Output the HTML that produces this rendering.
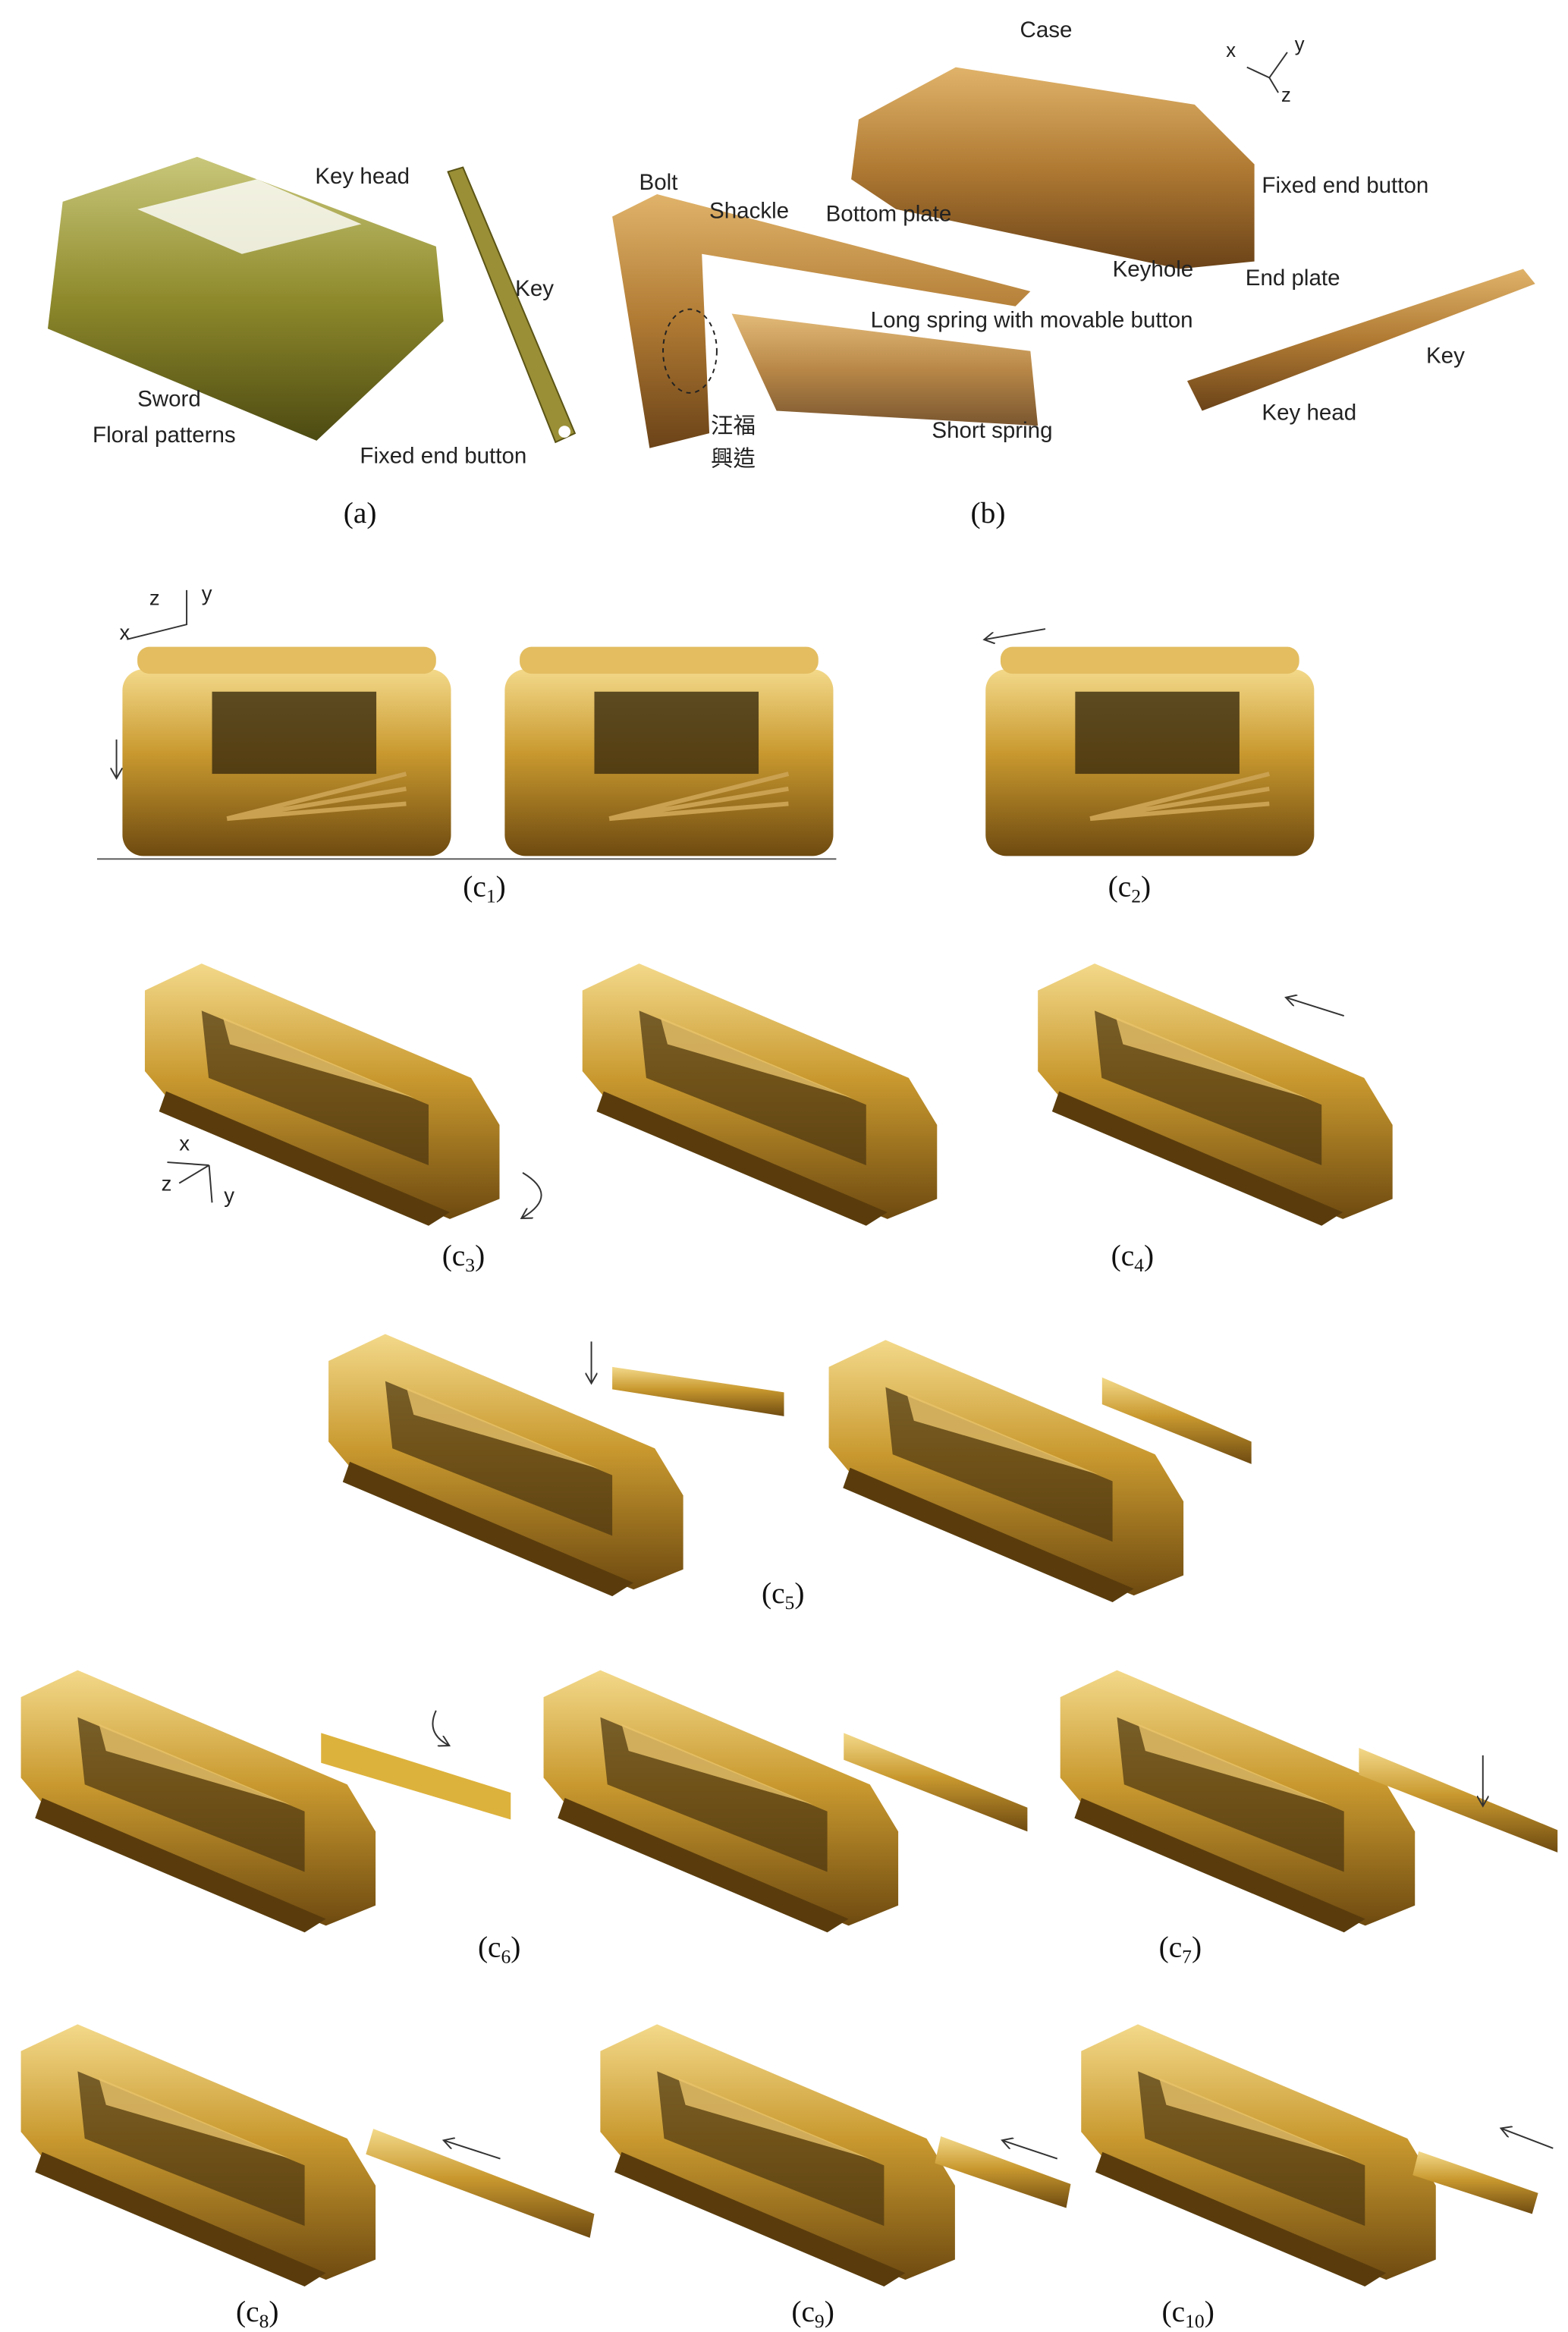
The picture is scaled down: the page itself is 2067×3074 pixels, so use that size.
<!DOCTYPE html>
<html><head><meta charset="utf-8"><style>
html,body{margin:0;padding:0;background:#fff;}
svg{display:block}
text{font-family:"Liberation Sans","Noto Sans CJK TC",sans-serif;fill:#222;}
.cap{font-family:"Liberation Serif",serif;font-size:20px;fill:#111}
.lb{font-size:15px}
</style></head><body>
<svg width="2067" height="3074" viewBox="0 0 1050 1561" preserveAspectRatio="none" xmlns="http://www.w3.org/2000/svg">
<defs>
<linearGradient id="g" x1="0" y1="0" x2="0" y2="1">
<stop offset="0" stop-color="#f3d98a"/><stop offset="0.45" stop-color="#c9992f"/><stop offset="1" stop-color="#6e4a10"/></linearGradient>
<linearGradient id="gr" x1="0" y1="0" x2="0" y2="1">
<stop offset="0" stop-color="#c9c77a"/><stop offset="0.5" stop-color="#8e8a2c"/><stop offset="1" stop-color="#4d4a12"/></linearGradient>
<linearGradient id="br" x1="0" y1="0" x2="0" y2="1">
<stop offset="0" stop-color="#e0b36a"/><stop offset="0.5" stop-color="#b07a33"/><stop offset="1" stop-color="#6b4318"/></linearGradient>
<marker id="ah" markerWidth="8" markerHeight="8" refX="6" refY="4" orient="auto"><path d="M0,0 L7,4 L0,8" fill="none" stroke="#333" stroke-width="1"/></marker>
<g id="lk">
<g transform="scale(0.95,0.9)">
<polygon points="0,20 40,0 230,85 250,120 250,175 215,190 20,105 0,80" fill="url(#g)"/>
<polygon points="40,35 200,105 200,150 45,85" fill="#4a3410" opacity="0.7"/>
<polygon points="55,40 190,100 60,60" fill="#e8c36a" opacity="0.8"/>
<polygon points="15,95 215,185 200,195 10,110" fill="#5a3c0c"/>
</g>
</g>
<g id="lk1">
<rect x="0" y="20" width="220" height="125" rx="14" fill="url(#g)"/>
<rect x="60" y="35" width="110" height="55" fill="#3a2a0e" opacity="0.8"/>
<rect x="10" y="5" width="200" height="18" rx="8" fill="#e3bd60"/>
<path d="M70,120 L190,90 M70,120 L190,100 M70,120 L190,110" stroke="#caa150" stroke-width="3"/>
</g>
</defs>

<!-- (a) -->
<g transform="translate(22,95)">
<path d="M20,40 L110,10 L270,70 L275,120 L190,200 L10,125 Z" fill="url(#gr)"/>
<path d="M70,45 L150,25 L220,55 L140,75 Z" fill="#fff" opacity="0.8"/>
</g>
<path d="M300,115 L310,112 L385,290 L372,296 Z" fill="#9a8f36" stroke="#5a5315"/>
<circle cx="378" cy="289" r="4" fill="#fff"/>
<text class="lb" x="211" y="123">Key head</text>
<text class="lb" x="345" y="198">Key</text>
<text class="lb" x="92" y="272">Sword</text>
<text class="lb" x="62" y="296">Floral patterns</text>
<text class="lb" x="241" y="310">Fixed end button</text>
<text class="cap" x="230" y="350">(a)</text>

<!-- (b) -->
<path d="M575,80 L640,45 L800,70 L840,110 L840,175 L790,180 L600,140 L570,120 Z" fill="url(#br)"/>
<path d="M410,145 L440,130 L690,195 L680,205 L470,170 L475,290 L435,300 Z" fill="url(#br)"/>
<path d="M490,210 L690,235 L695,285 L520,275 Z" fill="url(#br)" opacity="0.9"/>
<path d="M795,255 L1020,180 L1028,190 L805,275 Z" fill="url(#br)"/>
<ellipse cx="462" cy="235" rx="18" ry="28" fill="none" stroke="#222" stroke-dasharray="3,3"/>
<text class="lb" x="683" y="25">Case</text>
<text class="lb" x="428" y="127">Bolt</text>
<text class="lb" x="475" y="146">Shackle</text>
<text class="lb" x="553" y="148">Bottom plate</text>
<text class="lb" x="845" y="129">Fixed end  button</text>
<text class="lb" x="745" y="185">Keyhole</text>
<text class="lb" x="834" y="191">End plate</text>
<text class="lb" x="583" y="219">Long spring with movable button</text>
<text class="lb" x="955" y="243">Key</text>
<text class="lb" x="845" y="281">Key head</text>
<text class="lb" x="624" y="293">Short spring</text>
<text class="lb" x="476" y="290">汪福</text>
<text class="lb" x="476" y="312">興造</text>
<path d="M835,45 L850,52 L862,35 M850,52 L856,62" stroke="#333" fill="none"/>
<text x="821" y="38" font-size="13">x</text><text x="867" y="34" font-size="13">y</text><text x="858" y="68" font-size="13">z</text>
<text class="cap" x="650" y="350">(b)</text>

<!-- c1 c2 -->
<use href="#lk1" x="82" y="428"/>
<use href="#lk1" x="338" y="428"/>
<use href="#lk1" x="660" y="428"/>
<line x1="65" y1="575" x2="560" y2="575" stroke="#555"/>
<line x1="78" y1="495" x2="78" y2="520" stroke="#333" marker-end="url(#ah)"/>
<line x1="700" y1="421" x2="660" y2="428" stroke="#333" marker-end="url(#ah)"/>
<text x="80" y="428" font-size="14">x</text><text x="100" y="405" font-size="14">z</text><text x="135" y="402" font-size="14">y</text>
<path d="M85,428 L125,418 L125,395" stroke="#333" fill="none"/>
<text class="cap" x="310" y="600">(c<tspan font-size="13" dy="4">1</tspan><tspan dy="-4">)</tspan></text>
<text class="cap" x="742" y="600">(c<tspan font-size="13" dy="4">2</tspan><tspan dy="-4">)</tspan></text>

<!-- c3 c4 -->
<use href="#lk" x="97" y="645"/>
<use href="#lk" x="390" y="645"/>
<use href="#lk" x="695" y="645"/>
<line x1="900" y1="680" x2="862" y2="668" stroke="#333" marker-end="url(#ah)"/>
<path d="M140,780 L112,778 M140,780 L120,792 M140,780 L142,805" stroke="#333" fill="none"/>
<text x="120" y="770" font-size="14">x</text><text x="108" y="797" font-size="14">z</text><text x="150" y="805" font-size="14">y</text>
<path d="M350,785 Q375,800 350,815" fill="none" stroke="#333" marker-end="url(#ah)"/>
<text class="cap" x="296" y="847">(c<tspan font-size="13" dy="4">3</tspan><tspan dy="-4">)</tspan></text>
<text class="cap" x="744" y="847">(c<tspan font-size="13" dy="4">4</tspan><tspan dy="-4">)</tspan></text>

<!-- c5 -->
<use href="#lk" x="220" y="893"/>
<use href="#lk" x="555" y="897"/>
<polygon points="410,915 525,932 525,948 410,930" fill="url(#g)"/>
<polygon points="738,922 838,965 838,980 738,940" fill="url(#g)"/>
<line x1="396" y1="898" x2="396" y2="925" stroke="#333" marker-end="url(#ah)"/>
<text class="cap" x="510" y="1073">(c<tspan font-size="13" dy="4">5</tspan><tspan dy="-4">)</tspan></text>

<!-- c6 c7 -->
<use href="#lk" x="14" y="1118"/>
<use href="#lk" x="364" y="1118"/>
<use href="#lk" x="710" y="1118"/>
<polygon points="215,1160 342,1200 342,1218 215,1180" fill="#ddb23c"/>
<polygon points="565,1160 688,1210 688,1226 565,1178" fill="url(#g)"/>
<polygon points="910,1170 1043,1225 1043,1240 910,1188" fill="url(#g)"/>
<path d="M292,1145 Q285,1160 300,1168" fill="none" stroke="#333" marker-end="url(#ah)"/>
<line x1="993" y1="1175" x2="993" y2="1208" stroke="#333" marker-end="url(#ah)"/>
<text class="cap" x="320" y="1310">(c<tspan font-size="13" dy="4">6</tspan><tspan dy="-4">)</tspan></text>
<text class="cap" x="776" y="1310">(c<tspan font-size="13" dy="4">7</tspan><tspan dy="-4">)</tspan></text>

<!-- c8 c9 c10 -->
<use href="#lk" x="14" y="1355"/>
<use href="#lk" x="402" y="1355"/>
<use href="#lk" x="724" y="1355"/>
<polygon points="250,1425 398,1482 395,1498 245,1442" fill="url(#g)"/>
<polygon points="630,1430 717,1462 714,1478 626,1448" fill="url(#g)"/>
<polygon points="950,1440 1030,1468 1026,1482 946,1456" fill="url(#g)"/>
<line x1="335" y1="1445" x2="298" y2="1433" stroke="#333" marker-end="url(#ah)"/>
<line x1="708" y1="1445" x2="672" y2="1433" stroke="#333" marker-end="url(#ah)"/>
<line x1="1040" y1="1438" x2="1006" y2="1425" stroke="#333" marker-end="url(#ah)"/>
<text class="cap" x="158" y="1554">(c<tspan font-size="13" dy="4">8</tspan><tspan dy="-4">)</tspan></text>
<text class="cap" x="530" y="1554">(c<tspan font-size="13" dy="4">9</tspan><tspan dy="-4">)</tspan></text>
<text class="cap" x="778" y="1554">(c<tspan font-size="13" dy="4">10</tspan><tspan dy="-4">)</tspan></text>
</svg>
</body></html>
